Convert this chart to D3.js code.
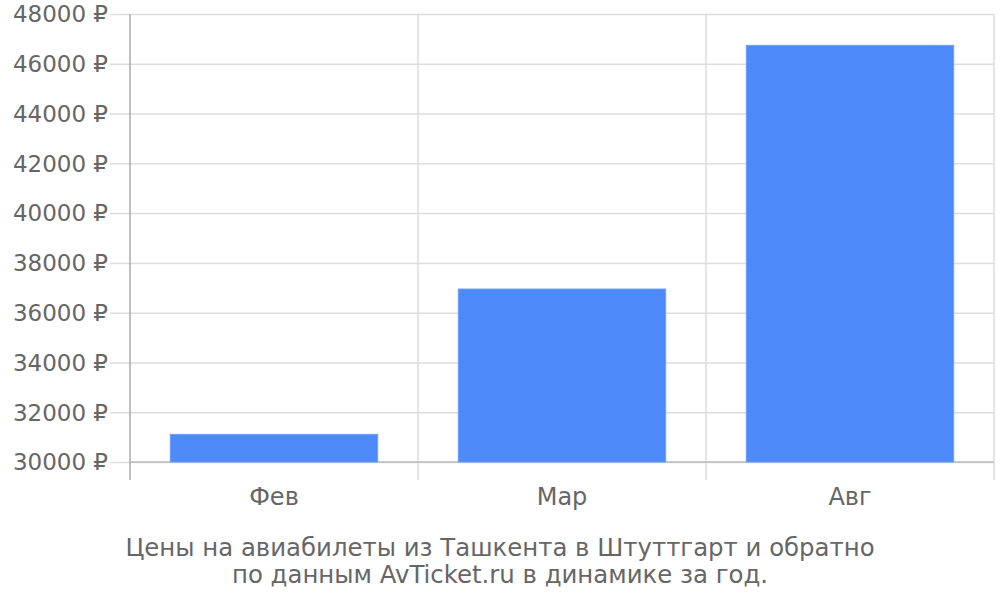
<!DOCTYPE html>
<html>
<head>
<meta charset="utf-8">
<script src="https://cdn.jsdelivr.net/npm/d3@7"></script>
<style>
  body { margin: 0; background: #fff; }
  text { font-family: "DejaVu Sans", sans-serif; fill: #666; }
</style>
</head>
<body>
<div id="chart"></div>
<script>
const months = ["Фев", "Мар", "Авг"];
const prices = [31110, 36950, 46740];
const yTicks = [30000, 32000, 34000, 36000, 38000, 40000, 42000, 44000, 46000, 48000];
const titleLines = ["Цены на авиабилеты из Ташкента в Штуттгарт и обратно", "по данным AvTicket.ru в динамике за год."];

const margin = { top: 14, bottom: 138, right: 6, left: 130 };
const width = 1000 - margin.left - margin.right;
const height = 600 - margin.top - margin.bottom;

const svg = d3.select("#chart")
    .append("svg")
    .attr("width", 1000)
    .attr("height", 600);

const chart = svg.append("g")
    .attr("transform", `translate(${margin.left}, ${margin.top})`);

const x = d3.scaleBand().domain(months).range([0, width]).paddingInner(0.28).paddingOuter(0.14);
const step = width / months.length;
const y = d3.scaleLinear().domain([30000, 48000]).range([height, 0]);

// horizontal grid + left ticks
chart.append("g")
    .selectAll("line")
    .data(yTicks)
    .join("line")
    .attr("x1", -20)
    .attr("x2", width)
    .attr("y1", d => y(d) + 0.5)
    .attr("y2", d => y(d) + 0.5)
    .attr("stroke", "#ddd")
    .attr("stroke-width", 1.5);

// vertical grid lines between categories
chart.append("g")
    .selectAll("line")
    .data(d3.range(months.length + 1))
    .join("line")
    .attr("x1", i => i * step)
    .attr("x2", i => i * step)
    .attr("y1", 0)
    .attr("y2", height + 18)
    .attr("stroke", i => i === 0 ? "#aaa" : "#ddd")
    .attr("stroke-width", 1.5);

chart.append("line")
    .attr("x1", 0).attr("x2", width)
    .attr("y1", height).attr("y2", height)
    .attr("stroke", "#bbb").attr("stroke-width", 1.5);

chart.append("g")
    .selectAll("rect")
    .data(months)
    .join("rect")
    .attr("x", d => x(d))
    .attr("width", x.bandwidth())
    .attr("y", (d, i) => y(prices[i]))
    .attr("height", (d, i) => height - y(prices[i]))
    .attr("fill", "#4d89f9")
    .attr("stroke", "#6d9ffa")
    .attr("stroke-width", 1);

chart.append("g")
    .selectAll("text")
    .data(yTicks)
    .join("text")
    .attr("x", -22)
    .attr("y", d => y(d))
    .attr("dy", "0.36em")
    .attr("text-anchor", "end")
    .style("font-size", "23px")
    .text(d => d + " ₽");

chart.append("g")
    .selectAll("text")
    .data(months)
    .join("text")
    .attr("x", d => x(d) + x.bandwidth() / 2)
    .attr("y", height + 43)
    .attr("text-anchor", "middle")
    .style("font-size", "24px")
    .text(d => d);

svg.append("g")
    .selectAll("text")
    .data(titleLines)
    .join("text")
    .attr("x", 500)
    .attr("y", (d, i) => 556 + i * 27)
    .attr("text-anchor", "middle")
    .style("font-size", "24.4px")
    .text(d => d);
</script>
</body>
</html>
